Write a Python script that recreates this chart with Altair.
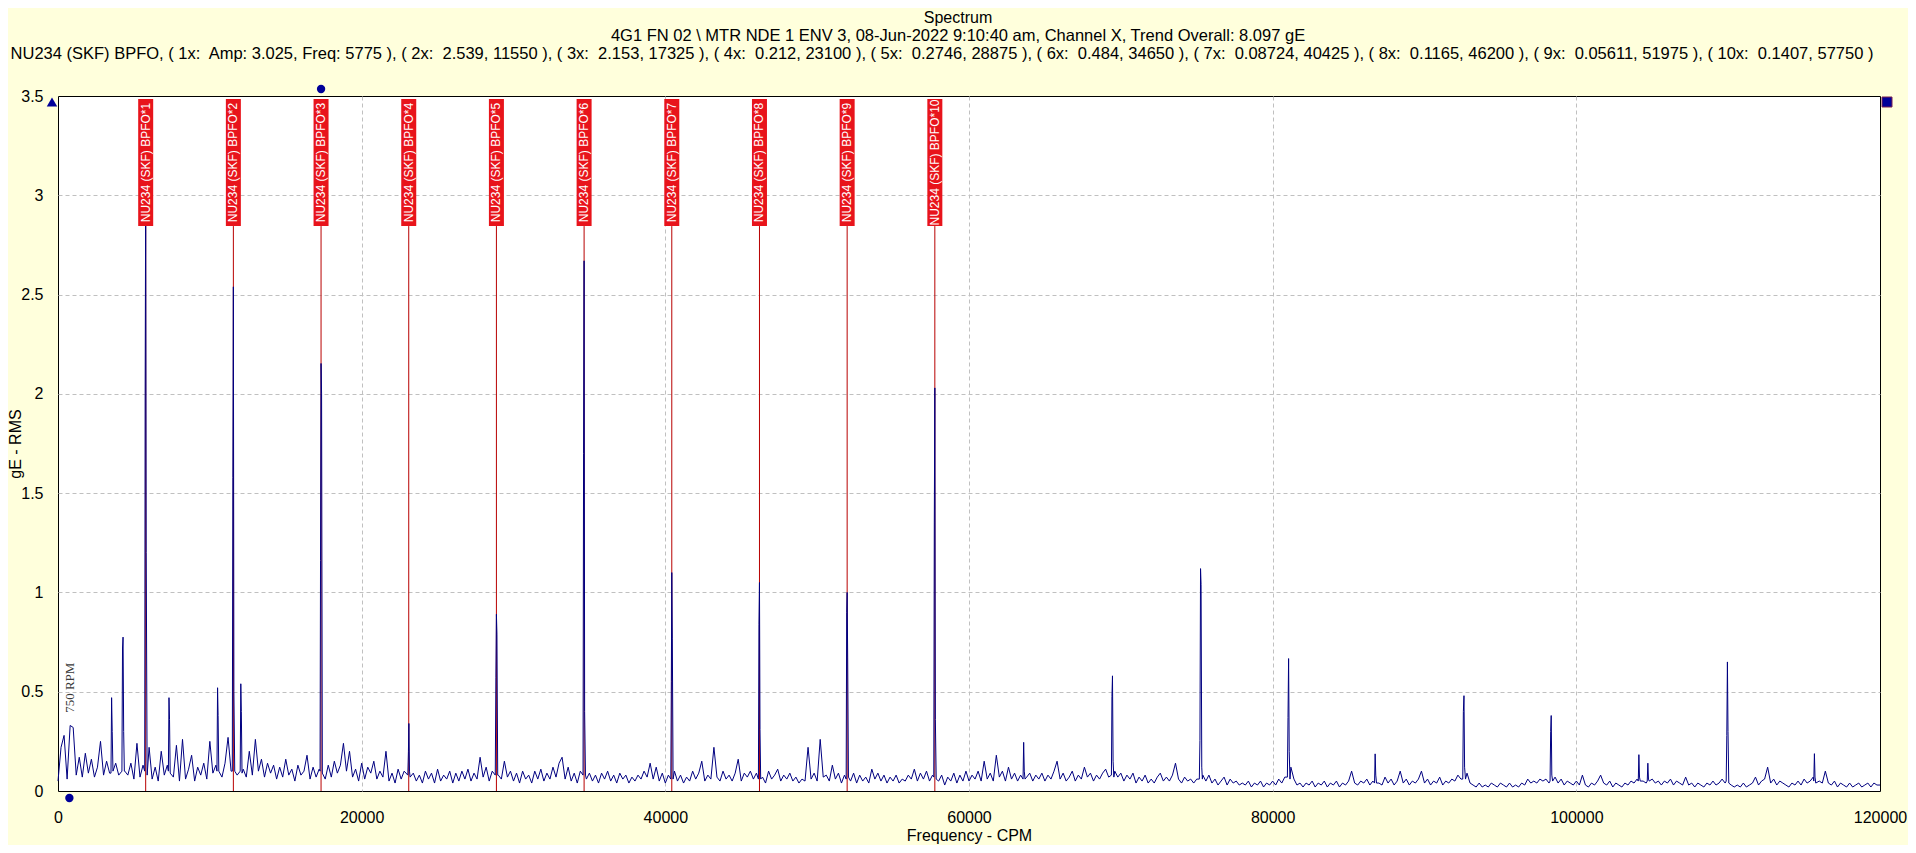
import altair as alt
import pandas as pd

# ---------------------------------------------------------------- data
FLOOR_STEP = 200  # CPM between noise-floor samples (None = sample replaced by a peak)

floor_0_30k = [
    0.05, 0.22, 0.28, 0.06, 0.33, 0.32, 0.08, 0.17, 0.07, 0.19, 0.09, 0.16, 0.07, 0.12, 0.25,
    0.08, 0.15, 0.09, None, 0.14, 0.08, None, 0.10, 0.08, 0.14, 0.06, 0.24, 0.07, 0.13, None,
    0.22, 0.06, 0.12, 0.05, 0.20, 0.08, 0.13, None, 0.07, 0.23, 0.05, 0.26, 0.06, 0.11, 0.18,
    0.05, 0.12, 0.08, 0.14, 0.06, 0.25, 0.09, 0.13, None, 0.07, 0.14, 0.27, 0.10, None, 0.08,
    None, 0.11, 0.07, 0.20, 0.08, 0.26, 0.10, 0.16, 0.07, 0.14, 0.09, 0.13, 0.06, 0.12, 0.07,
    0.16, 0.08, 0.11, 0.05, 0.13, 0.08, 0.10, 0.18, 0.06, 0.12, 0.07, 0.11, None, 0.06, 0.13,
    0.07, 0.15, 0.09, 0.13, 0.24, 0.10, 0.20, 0.07, 0.11, 0.05, 0.14, 0.06, 0.12, 0.09, 0.15,
    0.06, 0.10, 0.07, 0.20, 0.05, 0.09, 0.04, 0.11, 0.06, 0.10, None, None, 0.09, 0.05, 0.08,
    0.04, 0.10, 0.06, 0.09, 0.04, 0.11, 0.05, 0.08, 0.06, 0.10, 0.04, 0.09, 0.05, 0.10, 0.06,
    0.11, 0.05, 0.09, 0.06, 0.17, 0.07, 0.12, 0.05, 0.10, None, 0.08, 0.06, 0.15, 0.07, 0.10,
]
floor_30k_60k = [
    0.05, 0.09, 0.04, 0.10, 0.06, 0.08, 0.04, 0.10, 0.06, 0.11, 0.05, 0.09, 0.06, 0.12, 0.07,
    0.14, 0.17, 0.06, 0.12, 0.05, 0.09, 0.04, 0.10, None, 0.06, 0.09, 0.05, 0.08, 0.04, 0.09,
    0.06, 0.10, 0.05, 0.08, 0.04, 0.09, 0.06, 0.08, 0.04, 0.07, 0.05, 0.08, 0.06, 0.10, 0.07,
    0.14, 0.06, 0.12, 0.05, 0.09, 0.04, 0.08, None, 0.10, 0.05, 0.08, 0.04, 0.07, 0.05, 0.10,
    0.06, 0.09, 0.15, 0.05, 0.08, 0.06, 0.22, 0.07, 0.05, 0.10, 0.06, 0.08, 0.05, 0.09, 0.16,
    0.05, 0.09, 0.07, 0.10, 0.06, 0.09, None, 0.07, 0.04, 0.10, 0.06, 0.08, 0.11, 0.05, 0.08,
    0.06, 0.09, 0.05, 0.07, 0.04, 0.06, 0.05, 0.22, 0.06, 0.09, 0.05, 0.26, 0.07, 0.08, 0.05,
    0.13, 0.06, 0.09, 0.04, 0.08, None, 0.05, 0.09, 0.04, 0.08, 0.05, 0.07, 0.04, 0.11, 0.06,
    0.09, 0.05, 0.08, 0.04, 0.07, 0.05, 0.08, 0.04, 0.06, 0.05, 0.08, 0.06, 0.11, 0.05, 0.09,
    0.06, 0.10, 0.05, 0.08, None, 0.05, 0.08, 0.03, 0.07, 0.05, 0.09, 0.04, 0.08, 0.05, 0.10,
]
floor_60k_90k = [
    0.05, 0.08, 0.06, 0.10, 0.05, 0.15, 0.06, 0.09, 0.05, 0.18, 0.07, 0.10, 0.05, 0.12, 0.06,
    0.09, 0.05, 0.08, None, 0.07, 0.09, 0.05, 0.08, 0.06, 0.09, 0.05, 0.08, 0.06, 0.10, 0.15,
    0.06, 0.09, 0.05, 0.07, 0.10, 0.05, 0.08, 0.06, 0.12, 0.07, 0.09, 0.05, 0.08, 0.06, 0.09,
    0.11, 0.07, None, 0.10, 0.07, 0.09, 0.05, 0.08, 0.06, 0.09, 0.04, 0.07, 0.05, 0.08, 0.04,
    0.06, 0.04, 0.07, 0.09, 0.05, 0.07, 0.05, 0.08, 0.14, 0.06, 0.04, 0.07, 0.05, 0.06, 0.04,
    0.06, None, 0.08, 0.05, 0.08, 0.04, 0.06, 0.03, 0.05, 0.07, 0.03, 0.06, 0.04, 0.05, 0.03,
    0.04, 0.03, 0.05, 0.02, 0.04, 0.03, 0.05, 0.02, 0.04, 0.03, 0.05, 0.03, 0.06, 0.04, 0.07,
    None, 0.12, 0.06, 0.03, 0.04, 0.02, 0.04, 0.03, 0.05, 0.02, 0.04, 0.03, 0.05, 0.02, 0.04,
    0.03, 0.05, 0.02, 0.04, 0.03, 0.05, 0.10, 0.04, 0.03, 0.05, 0.04, 0.06, 0.03, 0.05, None,
    0.04, 0.03, 0.07, 0.04, 0.06, 0.03, 0.05, 0.10, 0.04, 0.06, 0.03, 0.05, 0.04, 0.06, 0.10,
]
floor_90k_120k = [
    0.04, 0.06, 0.03, 0.05, 0.04, 0.07, 0.03, 0.05, 0.04, 0.06, 0.05, 0.08, 0.06, None, 0.09,
    0.04, 0.03, 0.02, 0.04, 0.02, 0.03, 0.02, 0.04, 0.03, 0.02, 0.04, 0.03, 0.02, 0.04, 0.02,
    0.03, 0.02, 0.04, 0.03, 0.06, 0.04, 0.05, 0.04, 0.06, 0.05, 0.06, 0.04, None, 0.07, 0.04,
    0.06, 0.03, 0.05, 0.04, 0.03, 0.05, 0.03, 0.08, 0.03, 0.02, 0.04, 0.03, 0.05, 0.08, 0.04,
    0.03, 0.05, 0.02, 0.04, 0.03, 0.02, 0.04, 0.03, 0.05, 0.04, 0.06, None, 0.05, 0.04, None,
    0.06, 0.04, 0.05, 0.03, 0.05, 0.04, 0.06, 0.03, 0.05, 0.04, 0.03, 0.07, 0.03, 0.04, 0.02,
    0.04, 0.03, 0.02, 0.04, 0.03, 0.05, 0.03, 0.04, 0.06, 0.04, None, 0.03, 0.02, 0.03, 0.02,
    0.04, 0.02, 0.03, 0.04, 0.07, 0.03, 0.05, 0.06, 0.12, 0.04, 0.06, 0.03, 0.05, 0.04, 0.03,
    0.02, 0.04, 0.03, 0.05, 0.03, 0.06, 0.04, 0.05, 0.07, None, 0.05, 0.04, 0.10, 0.04, 0.03,
    0.05, 0.02, 0.04, 0.03, 0.02, 0.04, 0.02, 0.03, 0.04, 0.02, 0.03, 0.04, 0.02, 0.04, 0.03,
    0.03,
]

# narrow spectral peaks, one peak per line (freq CPM, amplitude gE)
peak_freq = [
    3490, 3530, 3570, 3620,
    4210, 4250, 4285, 4325, 4370,
    5710, 5740, 5775, 5810, 5870,
    7270, 7310, 7345, 7390,
    10470, 10510, 10545, 10590,
    11480, 11515, 11550, 11585, 11640,
    12000, 12040, 12075, 12120,
    17260, 17290, 17325, 17360, 17410,
    23040, 23080, 23110, 23150, 23190,
    28800, 28840, 28875, 28910, 28960,
    34580, 34615, 34650, 34685, 34740,
    40360, 40395, 40425, 40460, 40510,
    46130, 46165, 46200, 46235, 46280,
    51910, 51945, 51975, 52010, 52060,
    57680, 57715, 57750, 57785, 57840,
    63560, 63600, 63640, 63690,
    69380, 69415, 69450, 69490, 69540,
    75170, 75210, 75250, 75285, 75330, 75370,
    80970, 81010, 81050, 81090, 81140,
    86710, 86750, 86790, 86840,
    92520, 92560, 92600, 92640, 92700,
    98270, 98310, 98345, 98385, 98440,
    104080, 104120, 104160, 104210,
    104670, 104710, 104750, 104800,
    109870, 109910, 109950, 109990, 110040,
    115640, 115680, 115720, 115770,
]
peak_amp = [
    0.09, 0.47, 0.30, 0.10,
    0.10, 0.72, 0.775, 0.30, 0.10,
    0.10, 2.00, 3.025, 1.20, 0.08,
    0.10, 0.47, 0.36, 0.09,
    0.10, 0.52, 0.38, 0.10,
    0.10, 1.58, 2.539, 0.50, 0.10,
    0.10, 0.54, 0.40, 0.09,
    0.10, 1.16, 2.153, 2.00, 0.09,
    0.08, 0.20, 0.34, 0.10, 0.07,
    0.08, 0.57, 0.89, 0.79, 0.08,
    0.08, 1.70, 2.67, 0.40, 0.08,
    0.06, 0.55, 1.10, 0.77, 0.06,
    0.06, 0.84, 1.05, 0.31, 0.06,
    0.06, 0.90, 1.00, 0.67, 0.07,
    0.07, 1.35, 2.03, 0.36, 0.06,
    0.06, 0.245, 0.10, 0.06,
    0.08, 0.475, 0.58, 0.15, 0.07,
    0.06, 0.255, 1.12, 1.04, 0.12, 0.06,
    0.07, 0.37, 0.667, 0.20, 0.06,
    0.04, 0.187, 0.08, 0.04,
    0.06, 0.40, 0.48, 0.12, 0.06,
    0.05, 0.30, 0.38, 0.08, 0.05,
    0.05, 0.183, 0.07, 0.05,
    0.05, 0.14, 0.06, 0.05,
    0.05, 0.28, 0.65, 0.30, 0.04,
    0.05, 0.188, 0.07, 0.04,
]

bpfo_freq = [5775, 11550, 17325, 23100, 28875, 34650, 40425, 46200, 51975, 57750]
bpfo_label = [f"NU234 (SKF) BPFO*{k}" for k in range(1, 11)]

x_ticks = [0, 20000, 40000, 60000, 80000, 100000, 120000]
y_ticks = [0, 0.5, 1, 1.5, 2, 2.5, 3, 3.5]

title_1 = "Spectrum"
title_2 = "4G1 FN 02 \\ MTR NDE 1 ENV 3, 08-Jun-2022 9:10:40 am, Channel X, Trend Overall: 8.097 gE"
title_3 = (
    "NU234 (SKF) BPFO, ( 1x:\u00a0 Amp: 3.025, Freq: 5775 ), ( 2x:\u00a0 2.539, 11550 ), "
    "( 3x:\u00a0 2.153, 17325 ), ( 4x:\u00a0 0.212, 23100 ), ( 5x:\u00a0 0.2746, 28875 ), "
    "( 6x:\u00a0 0.484, 34650 ), ( 7x:\u00a0 0.08724, 40425 ), ( 8x:\u00a0 0.1165, 46200 ), "
    "( 9x:\u00a0 0.05611, 51975 ), ( 10x:\u00a0 0.1407, 57750 )"
)
RPM_CPM = 750

# ---------------------------------------------------------------- frames
floor = floor_0_30k + floor_30k_60k + floor_60k_90k + floor_90k_120k
rows = [(i * FLOOR_STEP, a) for i, a in enumerate(floor) if a is not None]
rows += list(zip(peak_freq, peak_amp))
spec = pd.DataFrame(rows, columns=["freq", "amp"]).sort_values("freq")
bpfo = pd.DataFrame({"freq": bpfo_freq, "label": bpfo_label})
one = pd.DataFrame({"k": [0]})

# ---------------------------------------------------------------- styling
W, H = 1822, 695
FONT = "Liberation Sans"
NAVY = "#000080"
BLUE = "#000099"
LABEL_TOP, LABEL_BOTTOM = 3.485, 2.845

x_scale = alt.Scale(domain=[0, 120000], nice=False, zero=False)
y_scale = alt.Scale(domain=[0, 3.5], nice=False)

# no grid line on top of the black frame
x_grid_op = alt.condition("datum.value == 0 || datum.value == 120000", alt.value(0), alt.value(1))
y_grid_op = alt.condition("datum.value == 0 || datum.value == 3.5", alt.value(0), alt.value(1))

x_axis = alt.Axis(values=x_ticks, format="d", title="Frequency - CPM", ticks=False, tickSize=0,
                  domain=False, labelFlush=False, labelPadding=26, labelBaseline="middle",
                  gridOpacity=x_grid_op,
                  titleX=W / 2, titleY=44, titleBaseline="middle", titleAlign="center")
y_axis = alt.Axis(values=y_ticks, format="~g", title="gE - RMS", ticks=False, tickSize=0,
                  domain=False, labelFlush=False, labelPadding=15, gridOpacity=y_grid_op,
                  titleX=-43, titleY=H / 2, titleAngle=270,
                  titleBaseline="middle", titleAlign="center")

x_enc = alt.X("freq:Q", scale=x_scale, axis=x_axis)
y_enc = alt.Y("amp:Q", scale=y_scale, axis=y_axis)

# ---------------------------------------------------------------- layers
marker_lines = alt.Chart(bpfo).mark_rule(color="#b80000", strokeWidth=1).encode(
    x=x_enc, y=alt.YDatum(LABEL_BOTTOM, scale=y_scale), y2=alt.Y2Datum(0)
)

spectrum = alt.Chart(spec).mark_line(color=NAVY, strokeWidth=1).encode(x=x_enc, y=y_enc)

boxes = alt.Chart(bpfo).mark_rule(color="#e8141b", strokeWidth=15, strokeCap="butt").encode(
    x=x_enc, y=alt.YDatum(LABEL_TOP, scale=y_scale), y2=alt.Y2Datum(LABEL_BOTTOM)
)

box_text = alt.Chart(bpfo).mark_text(
    angle=270, color="white", font=FONT, fontSize=12, align="center", baseline="middle"
).encode(x=x_enc, y=alt.YDatum((LABEL_TOP + LABEL_BOTTOM) / 2, scale=y_scale), text="label:N")

rpm_text = alt.Chart(one).mark_text(
    angle=270, font="Liberation Serif", fontSize=13, color="#3a3a3a",
    align="center", baseline="middle", text=f"{RPM_CPM} RPM"
).encode(x=alt.XDatum(RPM_CPM + 20, scale=x_scale), y=alt.YDatum(0.52, scale=y_scale))

handle_left = alt.Chart(one).mark_point(
    shape="triangle-up", filled=True, color=BLUE, size=110, opacity=1
).encode(x=alt.value(-6), y=alt.value(6))
handle_right = alt.Chart(one).mark_point(
    shape="square", filled=True, fill=BLUE, stroke="#7a2050", strokeWidth=1, size=100, opacity=1
).encode(x=alt.value(W + 7), y=alt.value(6))
cursor_top = alt.Chart(one).mark_point(shape="circle", filled=True, color=BLUE, size=70, opacity=1).encode(
    x=alt.XDatum(bpfo_freq[2], scale=x_scale), y=alt.value(-7)
)
cursor_bottom = alt.Chart(one).mark_point(shape="circle", filled=True, color=BLUE, size=70, opacity=1).encode(
    x=alt.XDatum(RPM_CPM, scale=x_scale), y=alt.value(H + 7)
)


def heading(text, size, x, y):
    return alt.Chart(one).mark_text(
        text=text, font=FONT, fontSize=size, color="black", align="center", baseline="middle"
    ).encode(x=alt.value(x), y=alt.value(y))


chart = alt.layer(
    marker_lines, spectrum, boxes, box_text, rpm_text,
    handle_left, handle_right, cursor_top, cursor_bottom,
    heading(title_1, 16, 900, -78),
    heading(title_2, 16.5, 900, -60),
    heading(title_3, 16.5, 884, -42),
).properties(
    width=W, height=H,
    autosize=alt.AutoSizeParams(type="none"),
    padding={"left": 50, "top": 88, "right": 28, "bottom": 54},
    background="#FFFFDC",
).configure_view(
    stroke="black", strokeWidth=1, fill="white"
).configure_axis(
    labelFont=FONT, labelFontSize=16, labelColor="black",
    titleFont=FONT, titleFontSize=16, titleFontWeight="normal", titleColor="black",
    grid=True, gridColor="#c0c0c0", gridDash=[4, 3], gridWidth=1,
)

chart.save("out.html", embed_options={"renderer": "svg", "actions": False})
